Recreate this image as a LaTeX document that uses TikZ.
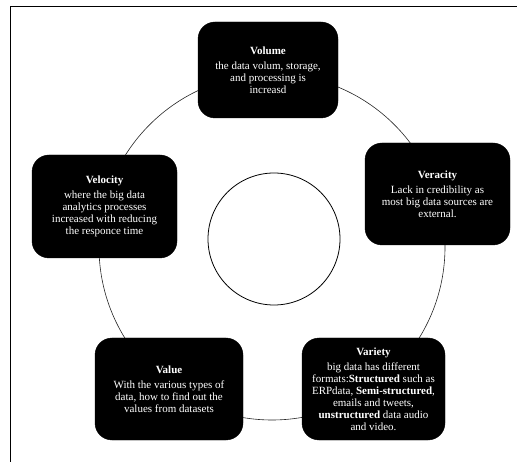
\documentclass[tikz,border=0pt]{standalone}
\usepackage{fontspec}
\setmainfont{Liberation Serif}
\usetikzlibrary{positioning, calc}
\tikzset{
  vbox/.style={
    rectangle,
    rounded corners=17pt,
    fill=black,
    draw=black,
    text=white,
    align=center,
    inner sep=3pt,
    font=\fontsize{11}{12}\selectfont
  },
  ring/.style={
    draw=black!85,
    line width=0.6pt
  },
  frame/.style={
    draw=black,
    line width=1pt
  }
}
\newcommand{\vtitle}[1]{\textbf{#1}\\[3pt]}

\begin{document}
\begin{tikzpicture}[x=1pt, y=-1pt]
  \useasboundingbox (0,0) rectangle (517,462);
  % page frame
  \coordinate (fbl) at (10,462);
  \coordinate (ftl) at (10,7);
  \coordinate (ftr) at (517,7);
  \draw[frame] (fbl) -- (ftl) -- (ftr);

  % outer ring and hub
  \coordinate (ctr) at (272,247);
  \draw[ring] (ctr) circle[radius=173pt];
  \node[circle, draw=black, line width=0.8pt, minimum size=132pt] (hub) at (274,239) {};

  % the five Vs
  \node[vbox, minimum width=140pt, minimum height=96pt] (volume) at (268,70)
    {\vtitle{Volume}the data volum, storage,\\ and processing is\\ increasd};
  \node[vbox, minimum width=145pt, minimum height=102pt] (veracity) at (437.5,194)
    {\vtitle{Veracity}Lack in credibility as\\ most big data sources are\\ external.};
  \node[vbox, minimum width=145pt, minimum height=103pt] (velocity) at (104.5,206.5)
    {\vtitle{Velocity}where the big data\\ analytics processes\\ increased with reducing\\ the responce time};
  \node[vbox, minimum width=148pt, minimum height=102pt] (value) at (169,389)
    {\vtitle{Value}With the various types of\\ data, how to find out the\\ values from datasets};
  \node[vbox, minimum width=143pt, minimum height=102pt] (variety) at (373.5,389)
    {\vtitle{Variety}big data has different\\ formats:\textbf{Structured} such as\\ ERPdata, \textbf{Semi-structured},\\ emails and tweets,\\ \textbf{unstructured} data audio\\ and video.};
\end{tikzpicture}
\end{document}
